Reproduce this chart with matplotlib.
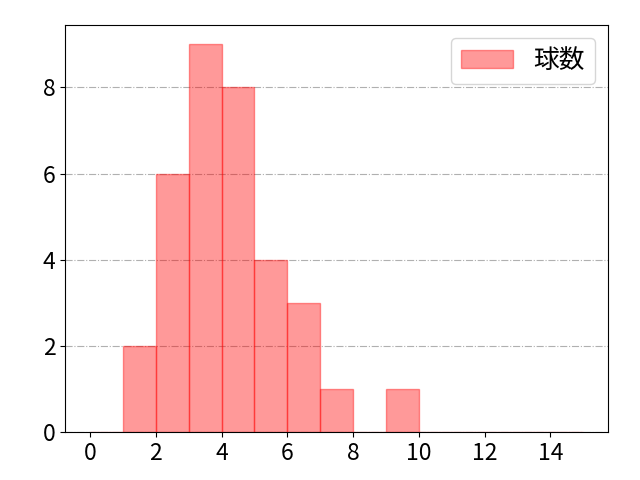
import matplotlib
matplotlib.use('Agg')
import matplotlib.pyplot as plt

plt.rcParams['font.family'] = ['Noto Sans CJK JP', 'DejaVu Sans']

# histogram bins (left edges) and counts
bin_left = [0, 1, 2, 3, 4, 5, 6, 7, 8, 9, 10, 11, 12, 13, 14]
counts = [0, 2, 6, 9, 8, 4, 3, 1, 0, 1, 0, 0, 0, 0, 0]
label = '球数'

fig, ax = plt.subplots(figsize=(6.4, 4.8), dpi=100)
ax.bar(bin_left, counts, width=1, align='edge', color='red', alpha=0.4,
       edgecolor='red', linewidth=1, label=label, zorder=2)
ax.set_xlim(-0.75, 15.75)
ax.set_xticks([0, 2, 4, 6, 8, 10, 12, 14])
ax.set_yticks([0, 2, 4, 6, 8])
ax.tick_params(labelsize=16.5)
ax.grid(axis='y', linestyle='-.', color='#b0b0b0', linewidth=0.8, zorder=0)
ax.set_axisbelow(True)
ax.legend(loc='upper right', fontsize=18.5)
fig.subplots_adjust(left=0.102, right=0.95, top=0.948, bottom=0.1)
plt.savefig('out.png', dpi=100)
